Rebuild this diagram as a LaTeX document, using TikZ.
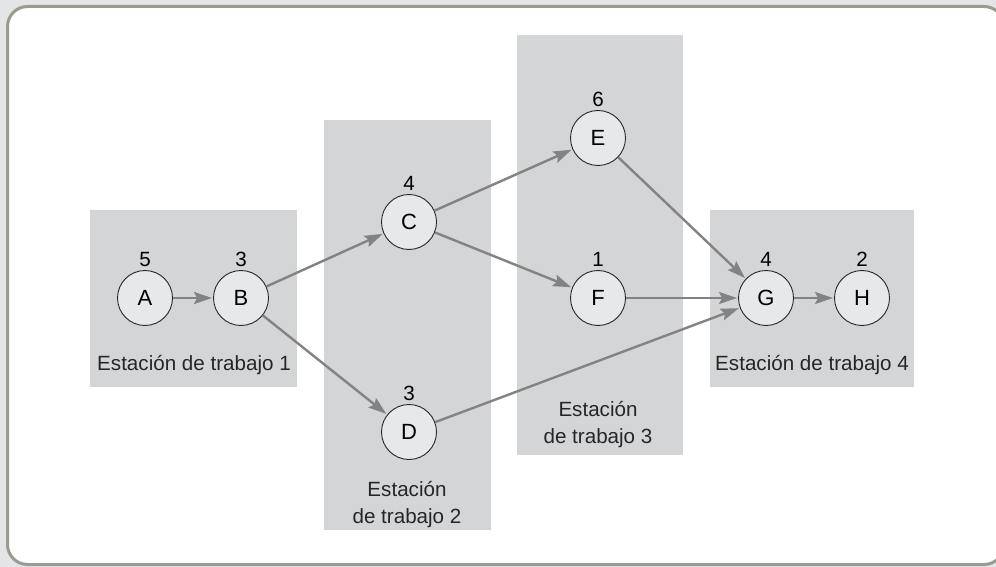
\documentclass[tikz,border=0pt]{standalone}
\usepackage{fontspec}
\setmainfont{Liberation Sans}
\usetikzlibrary{arrows.meta}

\definecolor{pagebg}{HTML}{E4E5E6}
\definecolor{frameline}{HTML}{9A9B90}
\definecolor{stationfill}{HTML}{D4D5D7}
\definecolor{taskfill}{HTML}{E7E8E9}
\definecolor{flowline}{HTML}{838383}

\begin{document}
\begin{tikzpicture}[
  x=1pt,y=-1pt,
  >={Stealth[length=18pt,width=12pt,inset=3pt]},
  font=\fontsize{20.6}{27}\selectfont,
  frame/.style={draw=frameline, line width=3pt, rounded corners=20pt, fill=white},
  station/.style={fill=stationfill, draw=none},
  task/.style={circle, draw=black!85, line width=0.9pt, fill=taskfill,
    minimum size=55pt, inner sep=0pt, font=\fontsize{22}{26}\selectfont,
    label distance=0pt},
  flow/.style={->, draw=flowline, line width=2.4pt, shorten >=1pt},
  stationname/.style={align=center, text=black!85}
]
\path[use as bounding box] (0,0) rectangle (996,567);
\fill[pagebg] (0,0) rectangle (996,567);

% Outer panel
\draw[frame] (7.5,6.5) rectangle (1004,564.5);

% Work stations
\fill[station] (90,210) rectangle (297,387);
\fill[station] (324,120) rectangle (491,530);
\fill[station] (517,35) rectangle (683,455);
\fill[station] (710,210) rectangle (914,387);

% Tasks with their times
\node[task, label={above:5}] (A) at (145,298) {A};
\node[task, label={above:3}] (B) at (241,298) {B};
\node[task, label={above:4}] (C) at (409,222) {C};
\node[task, label={above:3}] (D) at (409,432) {D};
\node[task, label={above:6}] (E) at (598,138) {E};
\node[task, label={above:1}] (F) at (598,298) {F};
\node[task, label={above:4}] (G) at (766,298) {G};
\node[task, label={above:2}] (H) at (862,298) {H};

% Precedence
\draw[flow] (A) -- (B);
\draw[flow] (B) -- (C);
\draw[flow] (B) -- (D);
\draw[flow] (C) -- (E);
\draw[flow] (C) -- (F);
\draw[flow] (E) -- (G);
\draw[flow] (F) -- (G);
\draw[flow] (D) -- (G);
\draw[flow] (G) -- (H);

% Station names
\node[stationname] (s1) at (194,365) {Estación de trabajo 1};
\node[stationname] (s2) at (407,505) {Estación\\de trabajo 2};
\node[stationname] (s3) at (598,425) {Estación\\de trabajo 3};
\node[stationname] (s4) at (812,365) {Estación de trabajo 4};

\end{tikzpicture}
\end{document}
